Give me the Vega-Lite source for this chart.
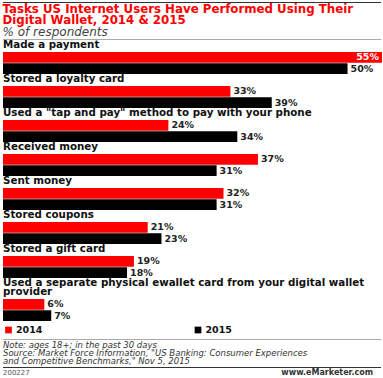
{
  "$schema": "https://vega.github.io/schema/vega-lite/v6.json",
  "padding": {"left": 2, "top": 1, "right": 0, "bottom": 0},
  "background": "white",
  "spacing": 0,
  "config": {
    "view": {"stroke": null},
    "font": "DejaVu Sans",
    "title": {"anchor": "start", "font": "DejaVu Sans", "fontSize": 10.3, "fontWeight": "bold", "color": "#111", "offset": 1.4, "baseline": "alphabetic", "lineHeight": 9}
  },
  "datasets": {
    "tasks": [
      {"k": 1, "task": "Made a payment", "year": "2014", "value": 55},
      {"k": 1, "task": "Made a payment", "year": "2015", "value": 50},
      {"k": 2, "task": "Stored a loyalty card", "year": "2014", "value": 33},
      {"k": 2, "task": "Stored a loyalty card", "year": "2015", "value": 39},
      {"k": 3, "task": "Used a \"tap and pay\" method to pay with your phone", "year": "2014", "value": 24},
      {"k": 3, "task": "Used a \"tap and pay\" method to pay with your phone", "year": "2015", "value": 34},
      {"k": 4, "task": "Received money", "year": "2014", "value": 37},
      {"k": 4, "task": "Received money", "year": "2015", "value": 31},
      {"k": 5, "task": "Sent money", "year": "2014", "value": 32},
      {"k": 5, "task": "Sent money", "year": "2015", "value": 31},
      {"k": 6, "task": "Stored coupons", "year": "2014", "value": 21},
      {"k": 6, "task": "Stored coupons", "year": "2015", "value": 23},
      {"k": 7, "task": "Stored a gift card", "year": "2014", "value": 19},
      {"k": 7, "task": "Stored a gift card", "year": "2015", "value": 18},
      {"k": 8, "task": "Used a separate physical ewallet card from your digital wallet provider", "year": "2014", "value": 6},
      {"k": 8, "task": "Used a separate physical ewallet card from your digital wallet provider", "year": "2015", "value": 7}
    ]
  },
  "vconcat": [
    {
      "width": 378, "height": 1,
      "data": {"values": [{}]},
      "mark": {"type": "rule", "color": "#333", "strokeWidth": 1.2},
      "encoding": {
        "x": {"datum": 0, "type": "quantitative", "axis": null, "scale": {"domain": [0, 55], "nice": false}},
        "x2": {"datum": 55}
      }
    },
    {
      "width": 378, "height": 1,
      "title": {
        "text": ["Tasks US Internet Users Have Performed Using Their", "Digital Wallet, 2014 & 2015"],
        "fontSize": 11.8, "color": "#ff0000", "lineHeight": 10.3, "offset": 1.5,
        "subtitle": "% of respondents", "subtitleFontSize": 12, "subtitleFontStyle": "italic", "subtitleColor": "#444", "subtitlePadding": 0
      },
      "data": {"values": [{}]},
      "mark": {"type": "rule", "color": "#aaa", "strokeWidth": 1},
      "encoding": {
        "x": {"datum": 0, "type": "quantitative", "axis": null, "scale": {"domain": [0, 55], "nice": false}},
        "x2": {"datum": 55}
      }
    },
    {
      "data": {"name": "tasks"},
      "transform": [{"filter": "datum.k == 1"}, {"calculate": "datum.value + '%'", "as": "label"}],
      "width": 379, "height": 22,
      "title": "Made a payment",
      "encoding": {
        "y": {"field": "year", "type": "nominal", "axis": null, "scale": {"paddingInner": 0.04, "paddingOuter": 0}},
        "x": {"field": "value", "type": "quantitative", "axis": null, "scale": {"domain": [0, 55], "nice": false}}
      },
      "layer": [
        {"mark": {"type": "bar"}, "encoding": {"color": {"field": "year", "type": "nominal", "scale": {"domain": ["2014", "2015"], "range": ["#ff0000", "#000000"]}, "legend": null}}},
        {"transform": [{"filter": "datum.value < 55"}], "mark": {"type": "text", "align": "left", "dx": 3, "fontSize": 9.5, "fontWeight": "bold", "color": "#222"}, "encoding": {"text": {"field": "label"}}},
        {"transform": [{"filter": "datum.value >= 55"}], "mark": {"type": "text", "align": "right", "dx": -3, "fontSize": 9.5, "fontWeight": "bold", "color": "white"}, "encoding": {"text": {"field": "label"}}}
      ]
    },
    {
      "data": {"name": "tasks"},
      "transform": [{"filter": "datum.k == 2"}, {"calculate": "datum.value + '%'", "as": "label"}],
      "width": 379, "height": 22,
      "title": "Stored a loyalty card",
      "encoding": {
        "y": {"field": "year", "type": "nominal", "axis": null, "scale": {"paddingInner": 0.04, "paddingOuter": 0}},
        "x": {"field": "value", "type": "quantitative", "axis": null, "scale": {"domain": [0, 55], "nice": false}}
      },
      "layer": [
        {"mark": {"type": "bar"}, "encoding": {"color": {"field": "year", "type": "nominal", "scale": {"domain": ["2014", "2015"], "range": ["#ff0000", "#000000"]}, "legend": null}}},
        {"mark": {"type": "text", "align": "left", "dx": 3, "fontSize": 9.5, "fontWeight": "bold", "color": "#222"}, "encoding": {"text": {"field": "label"}}}
      ]
    },
    {
      "data": {"name": "tasks"},
      "transform": [{"filter": "datum.k == 3"}, {"calculate": "datum.value + '%'", "as": "label"}],
      "width": 379, "height": 22,
      "title": "Used a \"tap and pay\" method to pay with your phone",
      "encoding": {
        "y": {"field": "year", "type": "nominal", "axis": null, "scale": {"paddingInner": 0.04, "paddingOuter": 0}},
        "x": {"field": "value", "type": "quantitative", "axis": null, "scale": {"domain": [0, 55], "nice": false}}
      },
      "layer": [
        {"mark": {"type": "bar"}, "encoding": {"color": {"field": "year", "type": "nominal", "scale": {"domain": ["2014", "2015"], "range": ["#ff0000", "#000000"]}, "legend": null}}},
        {"mark": {"type": "text", "align": "left", "dx": 3, "fontSize": 9.5, "fontWeight": "bold", "color": "#222"}, "encoding": {"text": {"field": "label"}}}
      ]
    },
    {
      "data": {"name": "tasks"},
      "transform": [{"filter": "datum.k == 4"}, {"calculate": "datum.value + '%'", "as": "label"}],
      "width": 379, "height": 22,
      "title": "Received money",
      "encoding": {
        "y": {"field": "year", "type": "nominal", "axis": null, "scale": {"paddingInner": 0.04, "paddingOuter": 0}},
        "x": {"field": "value", "type": "quantitative", "axis": null, "scale": {"domain": [0, 55], "nice": false}}
      },
      "layer": [
        {"mark": {"type": "bar"}, "encoding": {"color": {"field": "year", "type": "nominal", "scale": {"domain": ["2014", "2015"], "range": ["#ff0000", "#000000"]}, "legend": null}}},
        {"mark": {"type": "text", "align": "left", "dx": 3, "fontSize": 9.5, "fontWeight": "bold", "color": "#222"}, "encoding": {"text": {"field": "label"}}}
      ]
    },
    {
      "data": {"name": "tasks"},
      "transform": [{"filter": "datum.k == 5"}, {"calculate": "datum.value + '%'", "as": "label"}],
      "width": 379, "height": 22,
      "title": "Sent money",
      "encoding": {
        "y": {"field": "year", "type": "nominal", "axis": null, "scale": {"paddingInner": 0.04, "paddingOuter": 0}},
        "x": {"field": "value", "type": "quantitative", "axis": null, "scale": {"domain": [0, 55], "nice": false}}
      },
      "layer": [
        {"mark": {"type": "bar"}, "encoding": {"color": {"field": "year", "type": "nominal", "scale": {"domain": ["2014", "2015"], "range": ["#ff0000", "#000000"]}, "legend": null}}},
        {"mark": {"type": "text", "align": "left", "dx": 3, "fontSize": 9.5, "fontWeight": "bold", "color": "#222"}, "encoding": {"text": {"field": "label"}}}
      ]
    },
    {
      "data": {"name": "tasks"},
      "transform": [{"filter": "datum.k == 6"}, {"calculate": "datum.value + '%'", "as": "label"}],
      "width": 379, "height": 22,
      "title": "Stored coupons",
      "encoding": {
        "y": {"field": "year", "type": "nominal", "axis": null, "scale": {"paddingInner": 0.04, "paddingOuter": 0}},
        "x": {"field": "value", "type": "quantitative", "axis": null, "scale": {"domain": [0, 55], "nice": false}}
      },
      "layer": [
        {"mark": {"type": "bar"}, "encoding": {"color": {"field": "year", "type": "nominal", "scale": {"domain": ["2014", "2015"], "range": ["#ff0000", "#000000"]}, "legend": null}}},
        {"mark": {"type": "text", "align": "left", "dx": 3, "fontSize": 9.5, "fontWeight": "bold", "color": "#222"}, "encoding": {"text": {"field": "label"}}}
      ]
    },
    {
      "data": {"name": "tasks"},
      "transform": [{"filter": "datum.k == 7"}, {"calculate": "datum.value + '%'", "as": "label"}],
      "width": 379, "height": 22,
      "title": "Stored a gift card",
      "encoding": {
        "y": {"field": "year", "type": "nominal", "axis": null, "scale": {"paddingInner": 0.04, "paddingOuter": 0}},
        "x": {"field": "value", "type": "quantitative", "axis": null, "scale": {"domain": [0, 55], "nice": false}}
      },
      "layer": [
        {"mark": {"type": "bar"}, "encoding": {"color": {"field": "year", "type": "nominal", "scale": {"domain": ["2014", "2015"], "range": ["#ff0000", "#000000"]}, "legend": null}}},
        {"mark": {"type": "text", "align": "left", "dx": 3, "fontSize": 9.5, "fontWeight": "bold", "color": "#222"}, "encoding": {"text": {"field": "label"}}}
      ]
    },
    {
      "data": {"name": "tasks"},
      "transform": [{"filter": "datum.k == 8"}, {"calculate": "datum.value + '%'", "as": "label"}],
      "width": 379, "height": 22,
      "title": {"text": ["Used a separate physical ewallet card from your digital wallet", "provider"]},
      "encoding": {
        "y": {"field": "year", "type": "nominal", "axis": null, "scale": {"paddingInner": 0.04, "paddingOuter": 0}},
        "x": {"field": "value", "type": "quantitative", "axis": null, "scale": {"domain": [0, 55], "nice": false}}
      },
      "layer": [
        {"mark": {"type": "bar"}, "encoding": {"color": {"field": "year", "type": "nominal", "scale": {"domain": ["2014", "2015"], "range": ["#ff0000", "#000000"]}, "legend": null}}},
        {"mark": {"type": "text", "align": "left", "dx": 3, "fontSize": 9.5, "fontWeight": "bold", "color": "#222"}, "encoding": {"text": {"field": "label"}}}
      ]
    },
    {
      "data": {"values": [{"year": "2014"}, {"year": "2015"}]},
      "width": 379, "height": 18,
      "encoding": {
        "x": {"field": "year", "type": "nominal", "axis": null, "bandPosition": 0, "scale": {"type": "band", "paddingInner": 0, "paddingOuter": 0}}
      },
      "layer": [
        {"mark": {"type": "square", "size": 45, "opacity": 1, "xOffset": 5.5}, "encoding": {"color": {"field": "year", "type": "nominal", "scale": {"domain": ["2014", "2015"], "range": ["#ff0000", "#000000"]}, "legend": null}}},
        {"mark": {"type": "text", "align": "left", "dx": 13, "fontSize": 9.5, "fontWeight": "bold", "color": "#111"}, "encoding": {"text": {"field": "year"}}}
      ]
    },
    {
      "width": 378, "height": 1,
      "data": {"values": [{}]},
      "mark": {"type": "rule", "color": "#aaa", "strokeWidth": 1},
      "encoding": {
        "x": {"datum": 0, "type": "quantitative", "axis": null, "scale": {"domain": [0, 55], "nice": false}},
        "x2": {"datum": 55}
      }
    },
    {
      "data": {"values": [
        {"i": 1, "t": "Note: ages 18+; in the past 30 days"},
        {"i": 2, "t": "Source: Market Force Information, \"US Banking: Consumer Experiences"},
        {"i": 3, "t": "and Competitive Benchmarks,\" Nov 5, 2015"}
      ]},
      "width": 379, "height": 26,
      "mark": {"type": "text", "align": "left", "baseline": "middle", "fontSize": 8.5, "fontStyle": "italic", "color": "#333"},
      "encoding": {
        "y": {"field": "i", "type": "ordinal", "axis": null, "scale": {"type": "band", "paddingInner": 0, "paddingOuter": 0.2}},
        "x": {"datum": 0, "type": "quantitative", "axis": null, "scale": {"domain": [0, 55], "nice": false}},
        "text": {"field": "t"}
      }
    },
    {
      "width": 378, "height": 1,
      "data": {"values": [{}]},
      "mark": {"type": "rule", "color": "#333", "strokeWidth": 1.2},
      "encoding": {
        "x": {"datum": 0, "type": "quantitative", "axis": null, "scale": {"domain": [0, 55], "nice": false}},
        "x2": {"datum": 55}
      }
    },
    {
      "data": {"values": [{"side": "L", "t": "200227"}, {"side": "R", "t": "www.eMarketer.com"}]},
      "width": 370, "height": 8,
      "encoding": {
        "x": {"field": "side", "type": "nominal", "axis": null, "scale": {"type": "point", "padding": 0, "domain": ["L", "R"]}},
        "text": {"field": "t"}
      },
      "layer": [
        {"transform": [{"filter": "datum.side == 'L'"}], "mark": {"type": "text", "align": "left", "baseline": "middle", "fontSize": 7, "color": "#555"}},
        {"transform": [{"filter": "datum.side == 'R'"}], "mark": {"type": "text", "align": "right", "baseline": "middle", "fontSize": 8, "fontWeight": "bold", "color": "#333"}}
      ]
    }
  ]
}
